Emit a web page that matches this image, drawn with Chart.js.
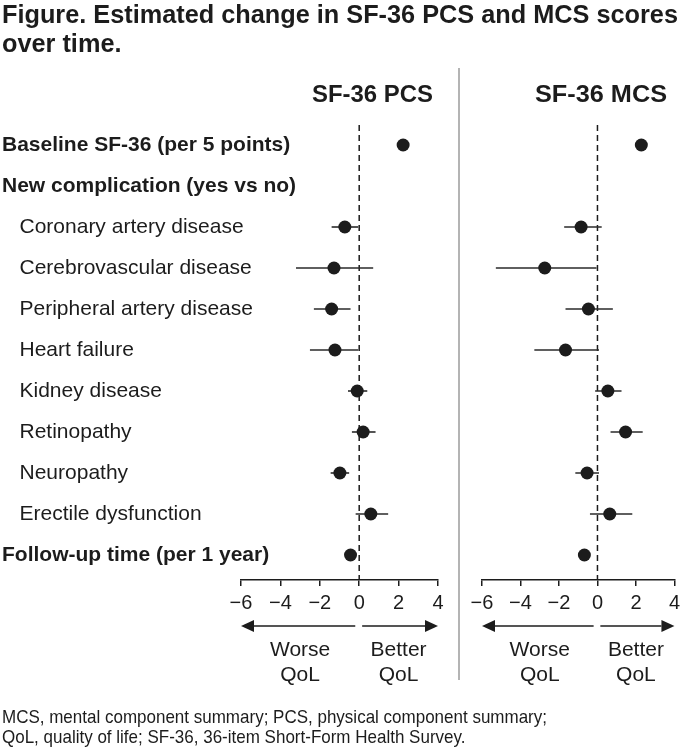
<!DOCTYPE html>
<html>
<head>
<meta charset="utf-8">
<script src="https://cdn.jsdelivr.net/npm/chart.js@4.4.1/dist/chart.umd.min.js"></script>
<style>
html,body{margin:0;padding:0;background:#fff}
#wrap{position:relative;width:685px;height:748px;overflow:hidden;font-family:"Liberation Sans",Arial,sans-serif;color:#1c1c1c}
#wrap canvas{position:absolute;left:0;top:0}
.txt{position:absolute;left:0;top:0;white-space:nowrap;line-height:1;transform-origin:0 0}
.narrow{font-family:"Liberation Sans Narrow","Liberation Sans",Arial,sans-serif;font-weight:bold}
#sep{position:absolute;left:458px;top:68px;width:1.5px;height:612px;background:#b4b4b4}
</style>
</head>
<body>
<div id="wrap">
  <canvas id="pcsChart" width="685" height="748"></canvas>
  <canvas id="mcsChart" width="685" height="748"></canvas>
  <div id="sep"></div>
  <div class="txt narrow" id="title1" style="font-size:25px">Figure. Estimated change in SF-36 PCS and MCS scores</div>
  <div class="txt narrow" id="title2" style="font-size:25px">over time.</div>
  <div class="txt narrow" id="headPcs" style="font-size:24px">SF-36 PCS</div>
  <div class="txt narrow" id="headMcs" style="font-size:24px">SF-36 MCS</div>
  <div class="txt" id="note1" style="font-size:19px">MCS, mental component summary; PCS, physical component summary;</div>
  <div class="txt" id="note2" style="font-size:19px">QoL, quality of life; SF-36, 36-item Short-Form Health Survey.</div>
</div>
<script>
// rows, top to bottom
const rowLabels = ['Baseline SF-36 (per 5 points)', 'New complication (yes vs no)', 'Coronary artery disease',
  'Cerebrovascular disease', 'Peripheral artery disease', 'Heart failure', 'Kidney disease', 'Retinopathy',
  'Neuropathy', 'Erectile dysfunction', 'Follow-up time (per 1 year)'];
const boldRows = [true, true, false, false, false, false, false, false, false, false, true];
const xTicks = [-6, -4, -2, 0, 2, 4];

// estimates and 95% CI
const pcsEst  = [2.23, null, -0.73, -1.28, -1.40, -1.23, -0.10, 0.20, -0.98, 0.59, -0.44];
const pcsLow  = [null, null, -1.40, -3.21, -2.30, -2.50, -0.57, -0.37, -1.45, -0.18, null];
const pcsHigh = [null, null, -0.05, 0.71, -0.44, -0.05, 0.41, 0.83, -0.51, 1.47, null];
const mcsEst  = [2.28, null, -0.85, -2.74, -0.47, -1.66, 0.54, 1.46, -0.54, 0.64, -0.68];
const mcsLow  = [null, null, -1.73, -5.28, -1.66, -3.28, -0.12, 0.68, -1.15, -0.39, null];
const mcsHigh = [null, null, 0.22, -0.05, 0.80, 0.08, 1.25, 2.35, 0.08, 1.81, null];

const FONT = '"Liberation Sans", Arial, sans-serif';
const INK = '#1c1c1c';

function arrow(ctx, from, to, y) {
  const dir = Math.sign(to - from), head = 13;
  ctx.beginPath(); ctx.moveTo(from, y); ctx.lineTo(to - dir * head, y); ctx.stroke();
  ctx.beginPath(); ctx.moveTo(to, y); ctx.lineTo(to - dir * head, y - 6); ctx.lineTo(to - dir * head, y + 6);
  ctx.closePath(); ctx.fill();
}

// dashed line at 0, arrows and Worse/Better labels under the axis
const decor = {
  id: 'decor',
  beforeDatasetsDraw(chart) {
    const {ctx, chartArea: a, scales: {x}} = chart;
    const x0 = x.getPixelForValue(0);
    ctx.save();
    ctx.strokeStyle = INK; ctx.lineWidth = 1.5; ctx.setLineDash([6, 4]);
    ctx.beginPath(); ctx.moveTo(x0, a.top); ctx.lineTo(x0, a.bottom); ctx.stroke();
    ctx.restore();
  },
  afterDraw(chart) {
    const {ctx, chartArea: a, scales: {x}} = chart;
    const y = a.bottom + 46;
    ctx.save();
    ctx.strokeStyle = INK; ctx.fillStyle = INK; ctx.lineWidth = 1.6;
    arrow(ctx, x.getPixelForValue(-0.2), x.getPixelForValue(-6), y);
    arrow(ctx, x.getPixelForValue(0.15), x.getPixelForValue(4), y);
    ctx.font = '21px ' + FONT; ctx.textAlign = 'center'; ctx.textBaseline = 'alphabetic';
    ctx.fillText('Worse', x.getPixelForValue(-3), a.bottom + 76);
    ctx.fillText('QoL', x.getPixelForValue(-3), a.bottom + 101);
    ctx.fillText('Better', x.getPixelForValue(2), a.bottom + 76);
    ctx.fillText('QoL', x.getPixelForValue(2), a.bottom + 101);
    ctx.restore();
  }
};

function makePanel(id, est, low, high, withLabels, padL, padR) {
  const points = {
    data: est.map((v, i) => v == null ? null : {x: v, y: i}).filter(Boolean),
    pointRadius: 6.5, pointHoverRadius: 6.5, pointBackgroundColor: INK, pointBorderWidth: 0, showLine: false
  };
  const ciLines = [];
  est.forEach((v, i) => {
    if (low[i] == null) return;
    ciLines.push({data: [{x: low[i], y: i}, {x: high[i], y: i}], showLine: true,
      borderColor: '#2a2a2a', borderWidth: 1.6, pointRadius: 0, pointHoverRadius: 0});
  });
  // row labels are the y tick labels, mirrored so they are not clipped, pulled back to the left edge
  const yScale = {
    type: 'linear', reverse: true, min: -0.488, max: 10.61, display: withLabels,
    afterBuildTicks: s => { s.ticks = rowLabels.map((_, i) => ({value: i})); },
    afterFit: s => { s.width = 0; },
    grid: {display: false}, border: {display: false},
    ticks: {
      color: INK, mirror: true, crossAlign: 'near', padding: 2 - padL,
      font: c => ({family: FONT, size: 21, weight: boldRows[c.index] ? 'bold' : 'normal'}),
      callback: v => (boldRows[v] ? '' : '   ') + rowLabels[v]
    }
  };
  return new Chart(document.getElementById(id), {
    type: 'scatter',
    data: {datasets: [points, ...ciLines]},
    options: {
      responsive: false, animation: false, devicePixelRatio: 1,
      layout: {padding: {left: padL, right: padR, top: 125, bottom: 128}},
      plugins: {legend: {display: false}, tooltip: {enabled: false}},
      scales: {
        x: {
          type: 'linear', min: -6, max: 4,
          afterBuildTicks: s => { s.ticks = xTicks.map(v => ({value: v})); },
          afterFit: s => { s.height = 40; },
          border: {display: true, color: INK, width: 1.5},
          grid: {drawOnChartArea: false, drawTicks: true, tickLength: 6, color: INK, lineWidth: 1.5},
          ticks: {color: INK, font: {family: FONT, size: 20}, padding: 5,
            callback: v => String(v).replace('-', '\u2212')}
        },
        y: yScale
      }
    },
    plugins: [decor]
  });
}

makePanel('pcsChart', pcsEst, pcsLow, pcsHigh, true, 241, 247);
makePanel('mcsChart', mcsEst, mcsLow, mcsHigh, false, 482, 6);

// place html text on a baseline and squeeze it to the measured width
function place(id, left, baseline, width, scale) {
  const el = document.getElementById(id);
  const mark = document.createElement('span');
  mark.style.cssText = 'display:inline-block;width:0;height:0;vertical-align:baseline';
  el.appendChild(mark);
  const base = mark.offsetTop;
  const k = scale || width / el.getBoundingClientRect().width;
  el.style.left = left + 'px';
  el.style.top = (baseline - base) + 'px';
  el.style.transform = 'scaleX(' + k + ')';
  return k;
}
const kt = place('title1', 2, 23, 676);
place('title2', 2, 52, 0, kt);
place('headPcs', 312, 102, 121);
place('headMcs', 535, 102, 132);
const kn = place('note1', 2, 723, 545);
place('note2', 2, 743, 0, kn);
</script>
</body>
</html>
